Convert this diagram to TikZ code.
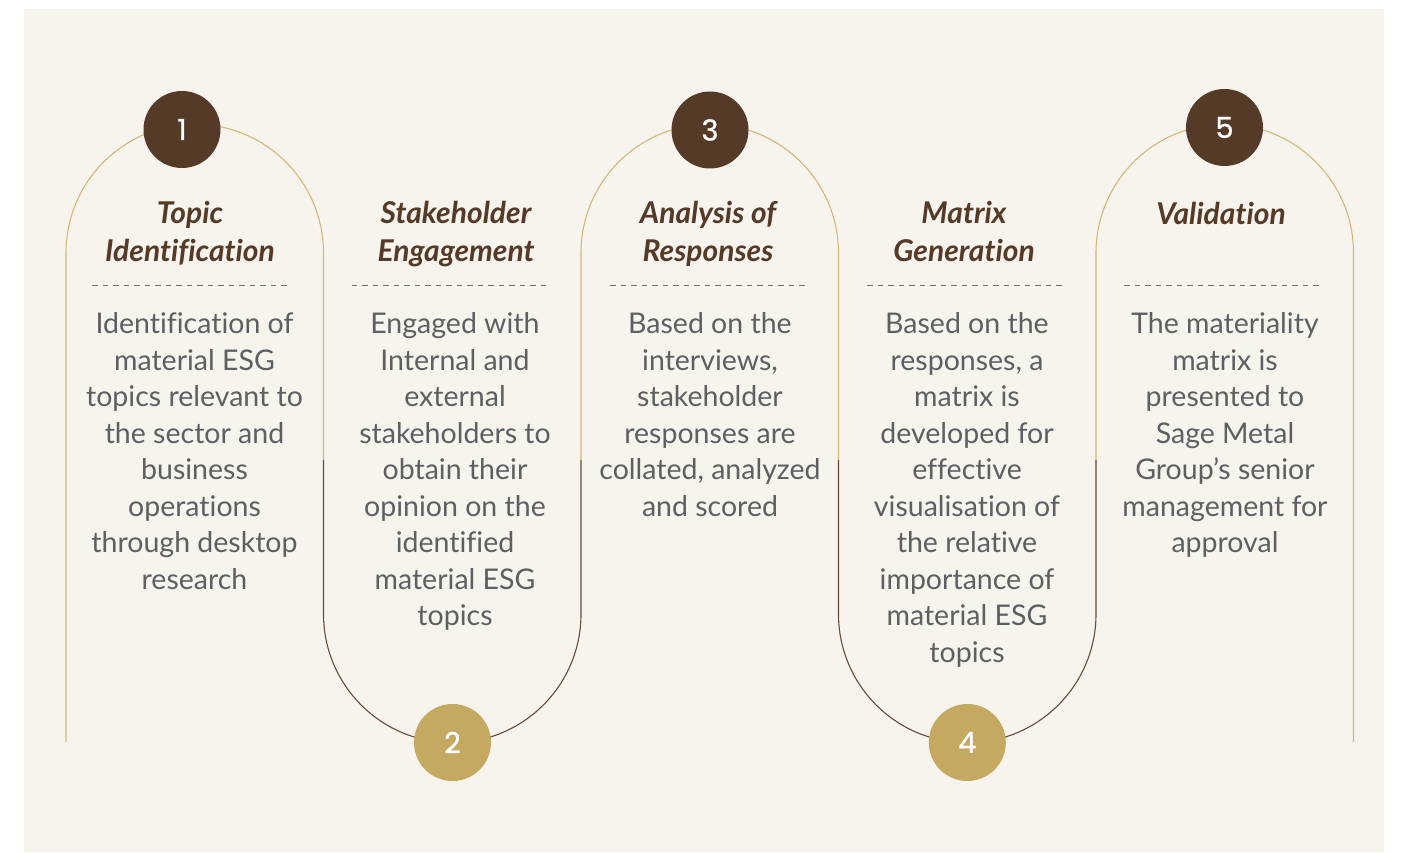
\documentclass[tikz,border=0pt]{standalone}
\usepackage{fontspec}
\setmainfont{Lato}[Ligatures=NoCommon]
\newfontfamily\numfont{Poppins}[FakeBold=0.8]
\definecolor{bg}{HTML}{F7F4EE}
\definecolor{archc}{HTML}{D3B878}
\definecolor{goldc}{HTML}{C6A961}
\definecolor{brownc}{HTML}{553A28}
\definecolor{ulinec}{HTML}{654B3A}
\definecolor{bodyc}{HTML}{5E5F60}
\definecolor{dashc}{HTML}{707070}
\begin{document}
\begin{tikzpicture}[x=1pt,y=1pt,
  archline/.style={draw=archc,line width=1.1pt},
  uline/.style={draw=ulinec,line width=1.1pt},
  numcirc/.style={circle,minimum size=77pt,inner sep=0pt,text=white,font=\numfont\fontsize{29}{30}\selectfont},
  titletxt/.style={align=center,inner sep=0pt,text=brownc,font=\bfseries\itshape\fontsize{30}{38}\selectfont},
  bodytxt/.style={align=center,inner sep=0pt,text=bodyc,font=\fontsize{28.5}{36.5}\selectfont},
  sepline/.style={draw=dashc,line width=1pt,dash pattern=on 5.5pt off 5pt}]
\useasboundingbox (0,0) rectangle (1401,852);
\fill[white] (0,0) rectangle (1401,852);
\fill[bg] (24,0) rectangle (1384,843);
% arches (steps 1, 3, 5)
\draw[archline] (66,110) -- (66,599) arc[start angle=180,end angle=0,radius=128.75pt] -- (323.5,392);
\draw[archline] (581,392) -- (581,599) arc[start angle=180,end angle=0,radius=128.75pt] -- (838.5,392);
\draw[archline] (1096,392) -- (1096,599) arc[start angle=180,end angle=0,radius=128.75pt] -- (1353.5,110);
% U shapes (steps 2, 4)
\draw[uline] (323.5,392) -- (323.5,238) arc[start angle=180,end angle=360,radius=128.75pt] -- (581,392);
\draw[uline] (838.5,392) -- (838.5,238) arc[start angle=180,end angle=360,radius=128.75pt] -- (1096,392);
% number circles
\node[numcirc,fill=brownc] (n1) at (182,722.5) {1};
\node[numcirc,fill=goldc]  (n2) at (452.5,109.5) {2};
\node[numcirc,fill=brownc] (n3) at (710,722) {3};
\node[numcirc,fill=goldc]  (n4) at (967.3,109.5) {4};
\node[numcirc,fill=brownc] (n5) at (1224.5,724.5) {5};
% titles (anchor base = baseline of last line)
\node[titletxt,anchor=base] (t1) at (190,590) {Topic\\Identification};
\node[titletxt,anchor=base] (t2) at (456,590) {Stakeholder\\Engagement};
\node[titletxt,anchor=base] (t3) at (708,590) {Analysis of\\Responses};
\node[titletxt,anchor=base] (t4) at (964,590) {Matrix\\Generation};
\node[titletxt,anchor=base] (t5) at (1221,627) {Validation};
% separators
\foreach \c in {191,450.5,709,966,1223}{
  \draw[sepline] (\c-99,566) -- (\c+99,566);
}
% bodies
\node[bodytxt,anchor=base] (b1) at (194.5,262.5) {Identification of\\material ESG\\topics relevant to\\the sector and\\business\\operations\\through desktop\\research};
\node[bodytxt,anchor=base] (b2) at (455,226) {Engaged with\\Internal and\\external\\stakeholders to\\obtain their\\opinion on the\\identified\\material ESG\\topics};
\node[bodytxt,anchor=base] (b3) at (710,335.5) {Based on the\\interviews,\\stakeholder\\responses are\\collated, analyzed\\and scored};
\node[bodytxt,anchor=base] (b4) at (967,189.5) {Based on the\\responses, a\\matrix is\\developed for\\effective\\visualisation of\\the relative\\importance of\\material ESG\\topics};
\node[bodytxt,anchor=base] (b5) at (1225,299) {The materiality\\matrix is\\presented to\\Sage Metal\\Group’s senior\\management for\\approval};
\end{tikzpicture}
\end{document}
